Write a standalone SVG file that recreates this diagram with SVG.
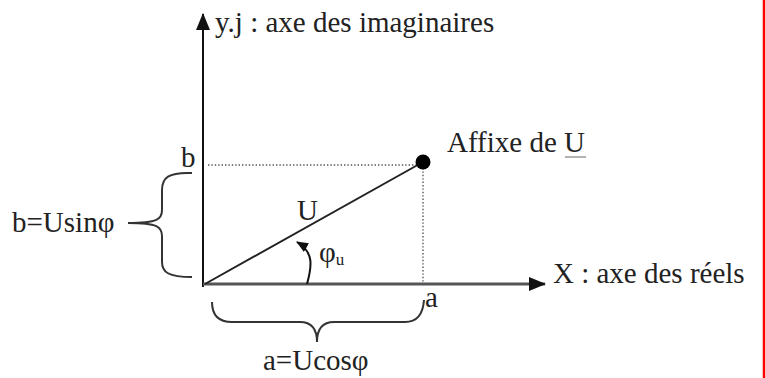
<svg xmlns="http://www.w3.org/2000/svg" width="766" height="378" viewBox="0 0 766 378">
<style>
text{font-family:"Liberation Serif","Times New Roman",serif;fill:#222;font-size:29px}
.ax{stroke:#111;stroke-width:2;fill:none}
.dot{stroke:#555;stroke-width:1.4;stroke-dasharray:1.4 2;fill:none}
.br{stroke:#333;stroke-width:2;fill:none}
</style>
<defs>
<marker id="ah" markerWidth="17" markerHeight="14" refX="16" refY="7" orient="auto" markerUnits="userSpaceOnUse"><path d="M0,0 L17,7 L0,14 Z" fill="#111"/></marker>
<marker id="ah2" markerWidth="12" markerHeight="10" refX="11" refY="5" orient="auto" markerUnits="userSpaceOnUse"><path d="M0,0 L12,5 L0,10 Z" fill="#111"/></marker>
</defs>
<rect width="766" height="378" fill="#fff"/>
<line x1="764" y1="0" x2="764" y2="378" stroke="#f00" stroke-width="2.5"/>
<g id="connectors">
<line class="ax" x1="203" y1="287" x2="203" y2="14" marker-end="url(#ah)"/>
<line x1="203" y1="284" x2="545" y2="284" stroke="#555" stroke-width="3" marker-end="url(#ah)"/>
<line class="dot" x1="208" y1="165" x2="420" y2="165"/>
<line class="dot" x1="423" y1="168" x2="423" y2="283"/>
<line x1="205" y1="284" x2="423" y2="162" stroke="#222" stroke-width="2"/>
<path class="ax" d="M307,284 C312,266 314,252 297,242" marker-end="url(#ah2)"/>
<path class="br" d="M192,173 C168,172 162,178 162,190 L162,210 C162,219 158,223 128,223 M128,223 C158,223 162,227 162,236 L162,262 C162,272 168,277 192,277"/>
<path class="br" d="M212,302 C212,317 220,322 232,322 L300,322 C312,322 317,330 317,342 M317,342 C317,330 322,322 334,322 L405,322 C417,322 423,315 424,300"/>
</g>
<g id="point"><circle cx="423" cy="162" r="7.5" fill="#000"/></g>
<g id="yaxis-label"><text x="215" y="32">y.j : axe des imaginaires</text></g>
<g id="xaxis-label"><text x="553" y="283">X : axe des réels</text></g>
<g id="affixe"><text x="447" y="152">Affixe de U</text><line x1="565" y1="157" x2="586" y2="157" stroke="#999" stroke-width="1.5"/></g>
<g id="b-label"><text x="181" y="167">b</text></g>
<g id="a-label"><text x="425" y="307">a</text></g>
<g id="U-label"><text x="297" y="220">U</text></g>
<g id="phi-label"><text x="319" y="262">φ<tspan font-size="17" dy="3">u</tspan></text></g>
<g id="bsin"><text x="12" y="232">b=Usinφ</text></g>
<g id="acos"><text x="263" y="370">a=Ucosφ</text></g>
</svg>
